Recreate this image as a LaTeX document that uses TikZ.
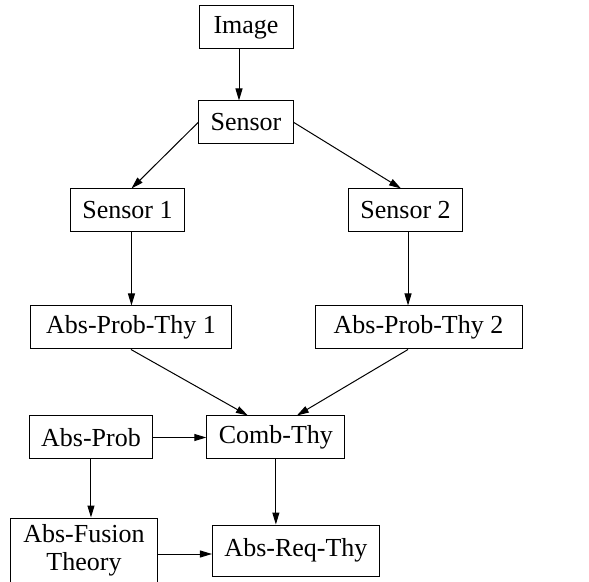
\documentclass[tikz,border=0pt]{standalone}
\usepackage{fontspec}
\setmainfont{Liberation Serif}
\usetikzlibrary{arrows.meta,positioning}
\tikzset{
  blk/.style={rectangle, draw=black, line width=0.5pt, fill=white,
    font=\fontsize{13}{14}\selectfont, align=center,
    minimum height=21.5pt, inner xsep=6pt, inner ysep=2pt},
  arr/.style={-{Triangle[length=6pt,width=3.5pt]}, line width=0.5pt, black},
}
\begin{document}
\begin{tikzpicture}[node distance=22pt]
\useasboundingbox (0,0) rectangle (294.5pt,-291pt);

% ---------------- TOP ----------------
\node[blk, minimum width=47pt] (n-img) at (123pt,-13.75pt) {Image};
\node[blk, minimum width=47pt, below=25.5pt of n-img] (n-sens) {Sensor};

% ---------------- SENSORS ----------------
\node[blk, minimum width=57pt, below left=22pt and 6.5pt of n-sens.south west] (n-s1) {Sensor 1};
\node[blk, minimum width=56.5pt, below right=22pt and 27pt of n-sens.south east] (n-s2) {Sensor 2};

% ---------------- THEORIES ----------------
\node[blk, minimum width=100.5pt, below=36.5pt of n-s1, xshift=1.75pt] (n-apt1) {Abs-Prob-Thy 1};
\node[blk, minimum width=103.5pt, below=36.5pt of n-s2, xshift=6.5pt] (n-apt2) {Abs-Prob-Thy 2};

% ---------------- COMBINATION ----------------
\node[blk, minimum width=60.5pt, below=33pt of n-apt1, xshift=-20pt] (n-ap) {Abs-Prob};
\node[blk, minimum width=67pt, right=26.5pt of n-ap] (n-comb) {Comb-Thy};

% ---------------- BOTTOM ----------------
\node[blk, minimum width=73.5pt, minimum height=32.5pt, below=29pt of n-ap, xshift=-3.5pt,
  font=\fontsize{13}{14}\selectfont] (n-fus) {Abs-Fusion\\Theory};
\node[blk, minimum width=83.5pt, minimum height=25.5pt, right=27pt of n-fus] (n-req) {Abs-Req-Thy};

% ================= ARROWS =================
\draw[arr] ([xshift=-3.5pt]n-img.south) -- ([xshift=-3.5pt]n-sens.north);
\draw[arr] (n-sens.west) -- ([xshift=2pt]n-s1.north);
\draw[arr] (n-sens.east) -- ([xshift=-2.25pt]n-s2.north);
\draw[arr] ([xshift=2pt]n-s1.south) -- ([xshift=2pt]n-s1.south |- n-apt1.north);
\draw[arr] ([xshift=1.25pt]n-s2.south) -- ([xshift=1.25pt]n-s2.south |- n-apt2.north);
\draw[arr] (n-apt1.south) -- ([xshift=-14pt]n-comb.north);
\draw[arr] ([xshift=-5.25pt]n-apt2.south) -- ([xshift=10.5pt]n-comb.north);
\draw[arr] (n-ap.east) -- (n-comb.west);
\draw[arr] (n-ap.south) -- (n-ap.south |- n-fus.north);
\draw[arr] (n-comb.south) -- (n-comb.south |- n-req.north);
\draw[arr] ([yshift=-1.75pt]n-fus.east) -- ([yshift=-1.75pt]n-fus.east -| n-req.west);

\end{tikzpicture}
\end{document}
